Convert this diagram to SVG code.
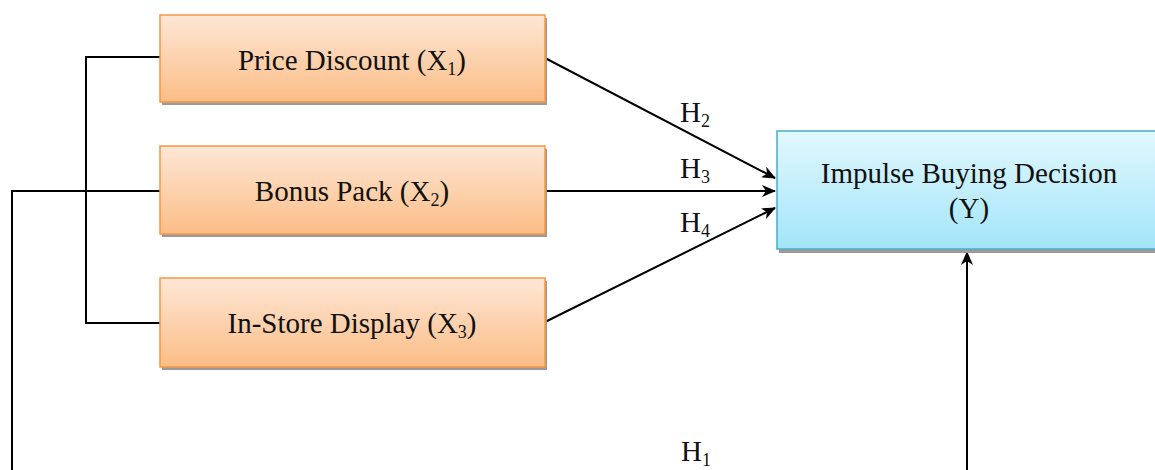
<svg xmlns="http://www.w3.org/2000/svg" width="1155" height="470" viewBox="0 0 1155 470">
<style>
.lbl{font-family:"Liberation Serif","Times New Roman",serif;font-size:29px;fill:#111;}
.sub{font-size:18px;}
.ln{stroke:#000;stroke-width:2;fill:none;}
.ob{fill:url(#og);stroke:#f79646;stroke-width:1.5;}
.bb{fill:url(#bg);stroke:#4bacc6;stroke-width:1.5;}
.sh{fill:#9a9a9a;}
</style>
<defs>
<linearGradient id="og" x1="0" y1="0" x2="0" y2="1">
<stop offset="0" stop-color="#fee7d6"/>
<stop offset="1" stop-color="#fbbd86"/>
</linearGradient>
<linearGradient id="bg" x1="0" y1="0" x2="0" y2="1">
<stop offset="0" stop-color="#e2f8fe"/>
<stop offset="1" stop-color="#a2e5f9"/>
</linearGradient>
<marker id="ar" viewBox="0 0 14 12" refX="13" refY="6" markerWidth="14" markerHeight="12" markerUnits="userSpaceOnUse" orient="auto">
<path d="M0,0 L14,6 L0,12 L4,6 z" fill="#000"/>
</marker>
</defs>
<rect width="1155" height="470" fill="#fff"/>
<g id="connectors">
<path class="ln" d="M160,57 H86 V323 H160"/>
<path class="ln" d="M160,191 H12 V470"/>
<path class="ln" d="M967,470 V252" marker-end="url(#ar)"/>
<path class="ln" d="M545,58 L775,178" marker-end="url(#ar)"/>
<path class="ln" d="M545,191 L775,191" marker-end="url(#ar)"/>
<path class="ln" d="M545,322 L775,208" marker-end="url(#ar)"/>
<text class="lbl" x="680" y="122">H<tspan class="sub" dy="5">2</tspan></text>
<text class="lbl" x="680" y="178">H<tspan class="sub" dy="5">3</tspan></text>
<text class="lbl" x="680" y="232">H<tspan class="sub" dy="5">4</tspan></text>
<text class="lbl" x="681" y="461">H<tspan class="sub" dy="5">1</tspan></text>
</g>
<g id="x1">
<rect class="sh" x="162" y="18" width="385" height="87"/>
<rect class="ob" x="160" y="15" width="385" height="87"/>
<text class="lbl" x="352" y="70" text-anchor="middle">Price Discount (X<tspan class="sub" dy="5">1</tspan><tspan dy="-5">)</tspan></text>
</g>
<g id="x2">
<rect class="sh" x="162" y="149" width="385" height="88"/>
<rect class="ob" x="160" y="146" width="385" height="88"/>
<text class="lbl" x="352" y="201" text-anchor="middle">Bonus Pack (X<tspan class="sub" dy="5">2</tspan><tspan dy="-5">)</tspan></text>
</g>
<g id="x3">
<rect class="sh" x="162" y="281" width="385" height="89"/>
<rect class="ob" x="160" y="278" width="385" height="89"/>
<text class="lbl" x="352" y="333" text-anchor="middle">In-Store Display (X<tspan class="sub" dy="5">3</tspan><tspan dy="-5">)</tspan></text>
</g>
<g id="y">
<rect class="sh" x="779" y="134" width="385" height="119"/>
<rect class="bb" x="777" y="131" width="385" height="118"/>
<text class="lbl" x="969" y="183" text-anchor="middle">Impulse Buying Decision</text>
<text class="lbl" x="969" y="218" text-anchor="middle">(Y)</text>
</g>
</svg>
